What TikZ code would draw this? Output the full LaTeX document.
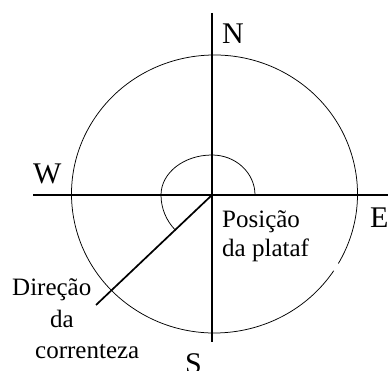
\documentclass[tikz,border=0pt]{standalone}
\usepackage{fontspec}
\setmainfont{Liberation Serif}
\begin{document}
\begin{tikzpicture}[x=1pt,y=-1pt,
  axis/.style={line width=1.7pt},
  thin/.style={line width=0.75pt},
  cardinal/.style={font=\fontsize{30}{30}\selectfont, inner sep=0pt, anchor=base west},
  lbl/.style={font=\fontsize{25}{25}\selectfont, inner sep=0pt, anchor=base west}]
\useasboundingbox (0,0) rectangle (388,371);
% named points
\coordinate (O) at (212,195);
\coordinate (Ntop) at (212,13);
\coordinate (Sbot) at (212,342);
\coordinate (Wend) at (33,195);
\coordinate (Eend) at (392,195);
\coordinate (Dend) at (96,305);
\coordinate (C) at (214.5,194);
\coordinate (A0) at (255,195);
% outer circle with small gap on the right
\draw[thin] ([shift={(33.5:143 and 139)}]C) arc[start angle=33.5, end angle=390, x radius=143, y radius=139];
% axes
\draw[axis] (Ntop) -- (Sbot);
\draw[axis] (Wend) -- (Eend);
% current direction
\draw[axis] (O) -- (Dend);
% angle arc
\draw[thin] (A0) arc[start angle=0, end angle=-90, x radius=43, y radius=40]
  arc[start angle=-90, end angle=-180, x radius=51, y radius=40]
  arc[start angle=-180, end angle=-225, radius=50];
% labels
\node[cardinal] (N) at (222,44) {N};
\node[cardinal] (W) at (33,184) {W};
\node[cardinal] (E) at (370,228) {E};
\node[cardinal] (S) at (185,373) {S};
\node[lbl] (pos1) at (222,228) {Posição};
\node[lbl] (pos2) at (222,257) {da plataf};
\node[lbl] (dir1) at (12,295) {Direção};
\node[lbl] (dir2) at (50,327) {da};
\node[lbl] (dir3) at (35,358) {correnteza};
\end{tikzpicture}
\end{document}
